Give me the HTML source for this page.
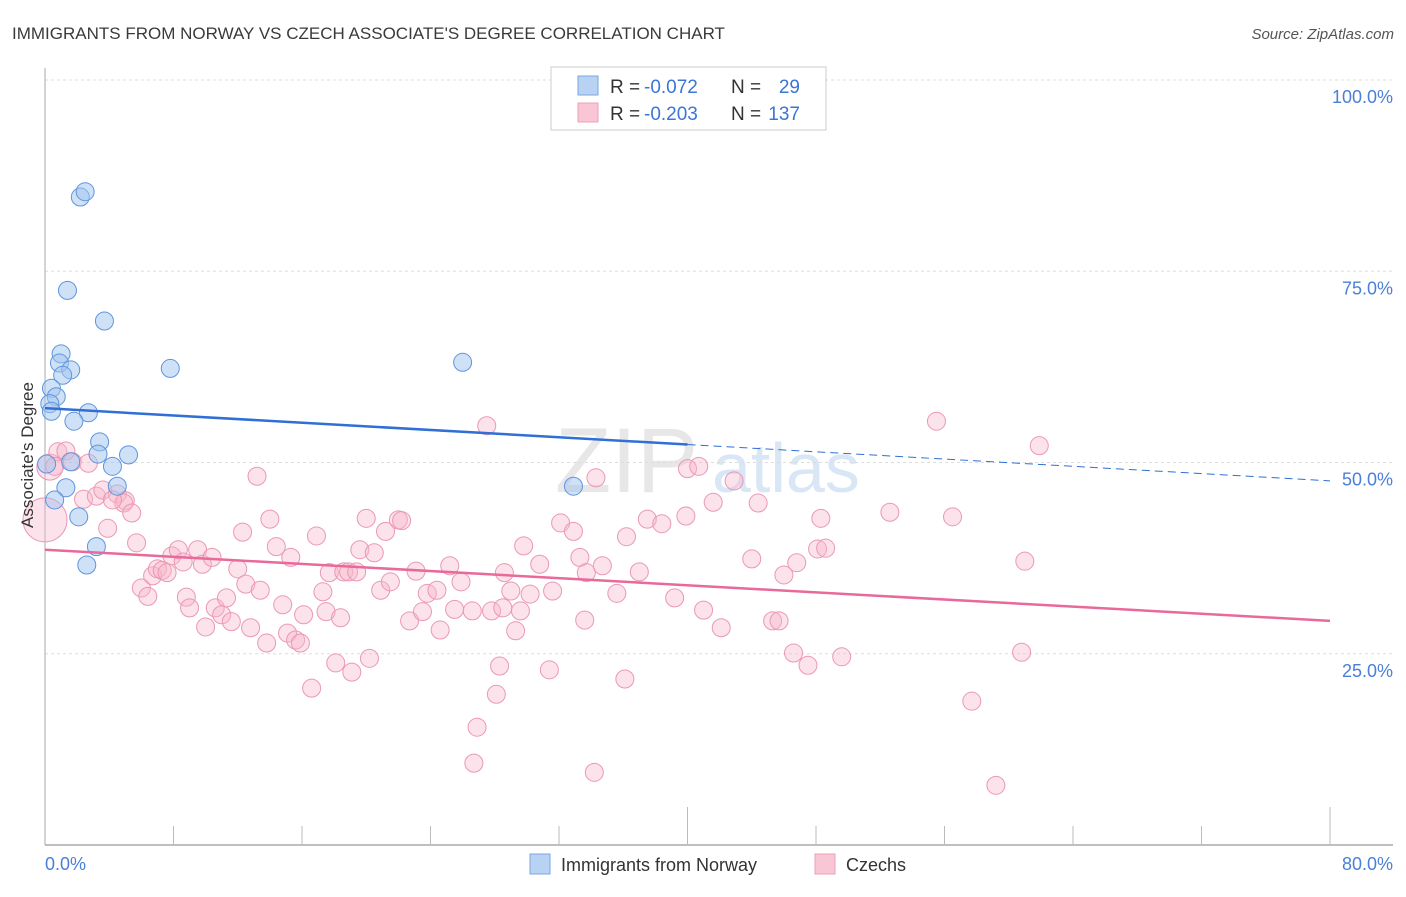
<!DOCTYPE html>
<html><head><meta charset="utf-8"><style>
body{margin:0;background:#fff;font-family:"Liberation Sans",sans-serif;}
svg text{font-family:"Liberation Sans",sans-serif;}
</style></head><body>
<svg id="chart" width="1406" height="892" xmlns="http://www.w3.org/2000/svg">
<text x="12" y="39" font-size="17" fill="#3a3a3a">IMMIGRANTS FROM NORWAY VS CZECH ASSOCIATE'S DEGREE CORRELATION CHART</text>
<text x="1394" y="39" font-size="15" fill="#555" font-style="italic" text-anchor="end">Source: ZipAtlas.com</text>
<text x="555" y="492" font-size="92" fill="#ddd" font-family="Liberation Serif" opacity="0.7">ZIP</text>
<text x="712" y="492" font-size="70" fill="#c8dcf2" opacity="0.7">atlas</text>
<g id="grid"></g><g id="axes"></g><g id="pink"></g><g id="blue"></g><g id="lines"></g>
<text transform="translate(33,455) rotate(-90)" font-size="17" fill="#333" text-anchor="middle">Associate's Degree</text>
<g>
<rect x="551" y="67" width="275" height="63" fill="#fff" stroke="#ccc"/>
<rect x="578" y="76" width="20" height="19" fill="#b8d2f4" stroke="#7aa6e0"/>
<rect x="578" y="103" width="20" height="19" fill="#f9c6d5" stroke="#eca0b8"/>
<text x="610" y="93" font-size="19" fill="#333">R =</text>
<text x="644" y="93" font-size="19" fill="#3b75d6">-0.072</text>
<text x="731" y="93" font-size="19" fill="#333">N =</text>
<text x="800" y="93" font-size="19" fill="#3b75d6" text-anchor="end">29</text>
<text x="610" y="120" font-size="19" fill="#333">R =</text>
<text x="644" y="120" font-size="19" fill="#3b75d6">-0.203</text>
<text x="731" y="120" font-size="19" fill="#333">N =</text>
<text x="800" y="120" font-size="19" fill="#3b75d6" text-anchor="end">137</text>
</g>
<g>
<rect x="530" y="854" width="20" height="20" fill="#b8d2f4" stroke="#7aa6e0"/>
<text x="561" y="871" font-size="18" fill="#333">Immigrants from Norway</text>
<rect x="815" y="854" width="20" height="20" fill="#f9c6d5" stroke="#eca0b8"/>
<text x="846" y="871" font-size="18" fill="#333">Czechs</text>
</g>
</svg>
<script>
const yTicks=[25,50,75,100];
const xTickCount=10;
const xLabels=["0.0%","80.0%"];
const blueX=[2.2,2.5,1.4,3.7,1.0,0.9,1.6,1.1,7.8,26.0,0.4,0.7,0.3,0.4,2.7,1.8,3.4,3.3,5.2,4.2,1.6,0.1,1.3,4.5,0.6,2.1,3.2,2.6,32.9];
const blueY=[84.7,85.4,72.5,68.5,64.2,63.0,62.1,61.4,62.3,63.1,59.7,58.6,57.7,56.7,56.5,55.4,52.7,51.1,51.0,49.5,50.1,49.8,46.7,46.9,45.1,42.9,39.0,36.6,46.9];
const pinkX=[0.3,0,0.8,1.3,1.7,2.7,0.6,3.9,2.4,3.2,3.6,4.5,5.0,4.9,5.4,4.2,5.7,6.0,6.4,6.7,7.0,7.3,7.6,7.9,8.3,8.6,8.8,9.0,9.5,9.8,10.0,10.4,10.6,11.0,11.3,11.6,12.0,12.3,12.5,12.8,13.2,13.4,13.8,14.0,14.4,14.8,15.1,15.3,15.6,15.9,16.1,16.6,16.9,17.3,17.5,17.7,18.1,18.4,18.6,18.9,19.1,19.4,19.6,20.0,20.2,20.5,20.9,21.2,21.5,22.0,22.2,22.7,23.1,23.5,23.8,24.4,24.6,25.2,25.5,25.9,26.6,26.9,26.7,27.5,27.8,28.1,28.3,28.5,28.6,29.0,29.3,29.6,29.8,30.2,30.8,31.4,31.6,32.1,32.9,33.3,33.6,33.7,34.2,34.3,34.7,35.6,36.1,36.2,37.0,37.5,38.4,39.2,39.9,40.0,40.7,41.0,41.6,42.1,42.9,44.4,44.0,46.0,46.6,46.8,47.5,48.1,48.3,48.6,49.6,45.3,45.7,52.6,55.5,56.5,57.7,59.2,60.8,61.0,61.9];
const pinkY=[49.4,42.5,51.4,51.5,50.1,49.9,49.5,41.4,45.2,45.6,46.4,45.9,45.0,44.7,43.4,45.1,39.5,33.6,32.5,35.2,36.1,35.9,35.6,37.8,38.6,37.0,32.4,31.0,38.6,36.7,28.5,37.6,31.0,30.1,32.3,29.2,36.1,40.9,34.1,28.4,48.2,33.3,26.4,42.6,39.0,31.4,27.7,37.6,26.8,26.4,30.1,20.5,40.4,33.1,30.5,35.6,23.8,29.7,35.7,35.7,22.6,35.7,38.6,42.7,24.4,38.2,33.3,41.0,34.4,42.5,42.4,29.3,35.8,30.5,32.9,33.3,28.1,36.5,30.8,34.4,30.6,15.4,10.7,54.8,30.6,19.7,23.4,31.0,35.6,33.2,28.0,30.6,39.1,32.8,36.7,22.9,33.2,42.1,41.0,37.6,29.4,35.6,9.5,48.0,36.5,32.9,21.7,40.3,35.7,42.6,42.0,32.3,43.0,49.2,49.5,30.7,44.8,28.4,47.6,44.7,37.4,35.3,25.1,36.9,23.5,38.7,42.7,38.8,24.6,29.3,29.3,43.5,55.4,42.9,18.8,7.8,25.2,37.1,52.2];
const blueTrend=[57.1,47.6];
const pinkTrend=[38.6,29.3];
const blueSolidEnd=40;
const X0=45,X1=1330,Y0=845,Y100=80;
const sx=v=>X0+(X1-X0)*v/80;
const sy=v=>Y0-(Y0-Y100)*v/100;
const NS="http://www.w3.org/2000/svg";
function mk(tag,attrs,parent){const e=document.createElementNS(NS,tag);for(const k in attrs)e.setAttribute(k,attrs[k]);document.getElementById(parent).appendChild(e);return e;}
yTicks.forEach(t=>{
 const g=mk('line',{x1:X0,x2:1393,y1:sy(t),y2:sy(t),stroke:'#ddd','stroke-dasharray':'3,3'},'grid');
 
 
 const l=mk('text',{x:1393,y:sy(t)+23,'font-size':18,fill:'#4a7fd8','text-anchor':'end'},'grid');
 l.textContent=t.toFixed(1)+'%';
 
 
});
const ya=mk('line',{x1:X0,x2:X0,y1:68,y2:Y0,stroke:'#aaa'},'axes');


const xa=mk('line',{x1:X0,x2:1393,y1:Y0,y2:Y0,stroke:'#aaa','stroke-width':1.5},'axes');


for(let i=1;i<=xTickCount;i++){
 const v=i*8;const long=(i==5||i==10);
 const t=mk('line',{x1:sx(v),x2:sx(v),y1:long?807:826,y2:Y0,stroke:'#bbb'},'axes');
 
 
}
const xl0=mk('text',{x:45,y:870,'font-size':18,fill:'#4a7fd8'},'axes');xl0.textContent=xLabels[0];


const xl1=mk('text',{x:1393,y:870,'font-size':18,fill:'#4a7fd8','text-anchor':'end'},'axes');xl1.textContent=xLabels[1];


pinkX.forEach((x,i)=>{
 const r=(i<2)?(i==0?13:22):9;
 const c=mk('circle',{cx:sx(x),cy:sy(pinkY[i]),r:r,fill:'rgba(248,182,203,0.4)',stroke:'#eb98b4','stroke-width':1},'pink');
 
 
});
blueX.forEach((x,i)=>{
 const c=mk('circle',{cx:sx(x),cy:sy(blueY[i]),r:9,fill:'rgba(160,196,240,0.5)',stroke:'#5f95dd','stroke-width':1},'blue');
 
 
});
const bAt=v=>blueTrend[0]+(blueTrend[1]-blueTrend[0])*v/80;
const pAt=v=>pinkTrend[0]+(pinkTrend[1]-pinkTrend[0])*v/80;
const bl=mk('line',{x1:sx(0),y1:sy(bAt(0)),x2:sx(blueSolidEnd),y2:sy(bAt(blueSolidEnd)),stroke:'#2f6fd6','stroke-width':2.5},'lines');


const bd=mk('line',{x1:sx(blueSolidEnd),y1:sy(bAt(blueSolidEnd)),x2:sx(80),y2:sy(bAt(80)),stroke:'#2f6fd6','stroke-width':1,'stroke-dasharray':'8,5'},'lines');


const pl=mk('line',{x1:sx(0),y1:sy(pAt(0)),x2:sx(80),y2:sy(pAt(80)),stroke:'#e8699a','stroke-width':2.5},'lines');


</script>
</body></html>
